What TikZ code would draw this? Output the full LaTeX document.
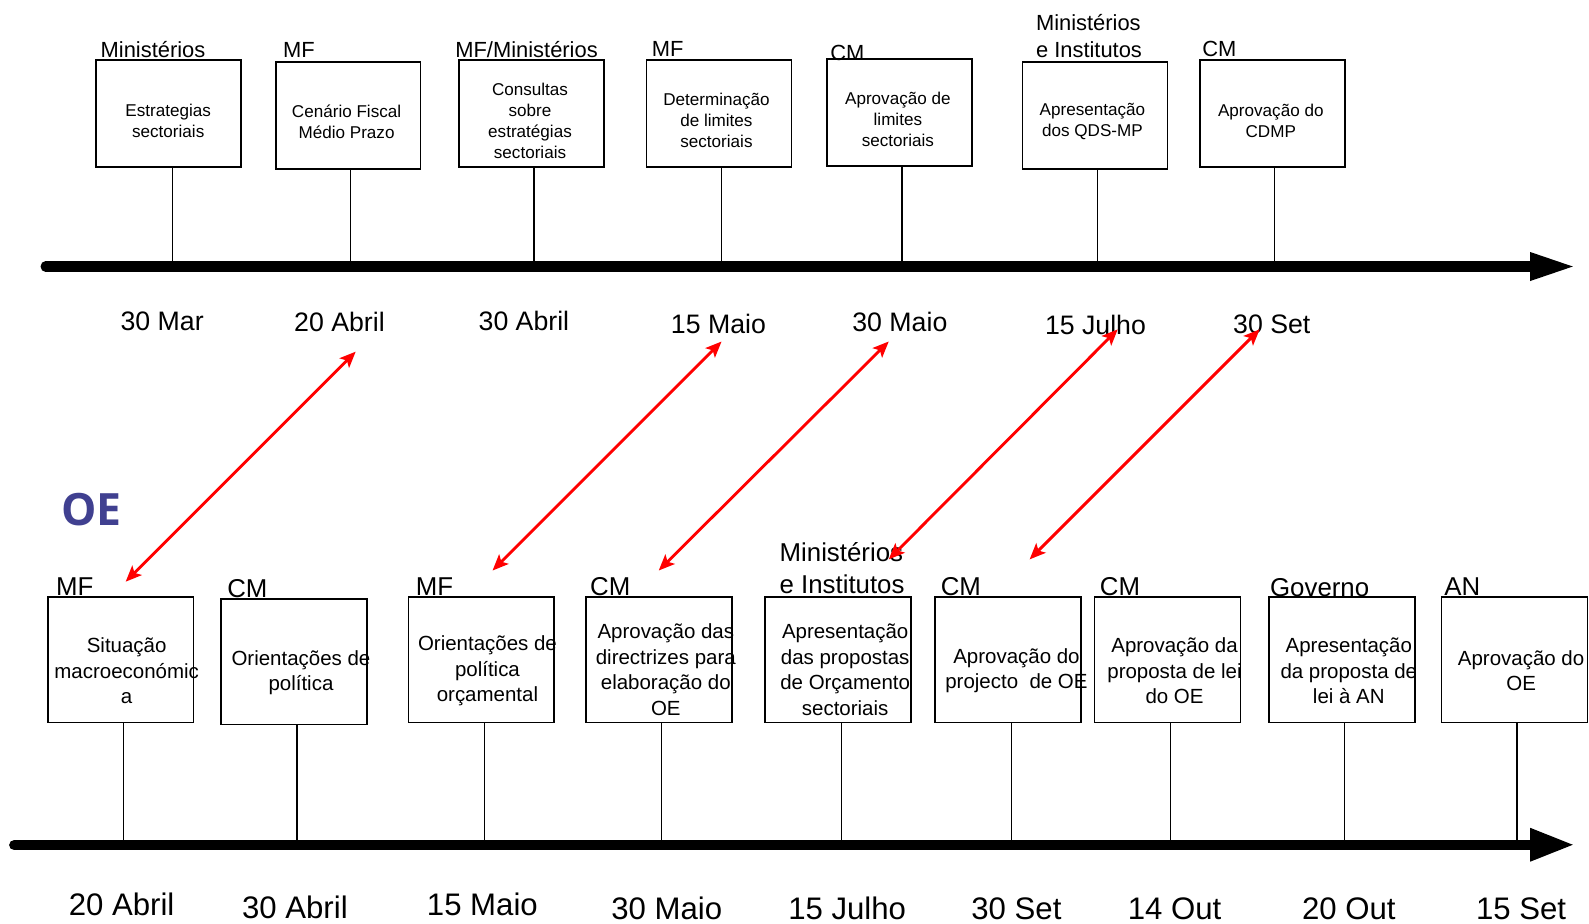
\documentclass[tikz,border=0pt]{standalone}
\usepackage{fontspec}
\setmainfont{Liberation Sans}
\newfontfamily\oefont{Open Sans}
\usetikzlibrary{arrows.meta}
\definecolor{oeblue}{RGB}{64,64,144}
\begin{document}
\begin{tikzpicture}[x=0.02cm,y=-0.02cm,
  tbox/.style={draw,line width=1pt,minimum width=2.86cm,minimum height=2.12cm,inner sep=0pt},
  bbox/.style={draw,line width=1pt,minimum width=2.88cm,minimum height=2.48cm,inner sep=0pt},
  ttext/.style={align=center,inner sep=0pt,font=\fontsize{9.6}{11.8}\selectfont},
  btext/.style={align=center,inner sep=0pt,font=\fontsize{11.5}{14.3}\selectfont},
  trole/.style={anchor=base west,inner sep=0pt,font=\fontsize{12.3}{14}\selectfont},
  brole/.style={anchor=base west,inner sep=0pt,font=\fontsize{14.5}{16}\selectfont},
  tdate/.style={anchor=base,inner sep=0pt,font=\fontsize{15}{17}\selectfont},
  bdate/.style={anchor=base,inner sep=0pt,font=\fontsize{17.5}{20}\selectfont},
  stem/.style={line width=0.7pt},
  axis/.style={line width=5.7pt,line cap=round},
  link/.style={red,line width=1.6pt,{Stealth[length=9pt,width=7.5pt,inset=2pt]}-{Stealth[length=9pt,width=7.5pt,inset=2pt]}}
]
\useasboundingbox (0,0) rectangle (1568,911);

% ---------- top timeline ----------
\coordinate (ta) at (45,263);
\coordinate (tb) at (1511,263);
\draw[axis] (ta) -- (tb);
\fill (1510,248.7) -- (1552,263) -- (1510,277.3) -- cycle;

\node[tbox] (B1) at (166.5,112) {};
\node[tbox] (B2) at (343.5,114) {};
\node[tbox] (B3) at (524.5,112) {};
\node[tbox] (B4) at (709.5,112) {};
\node[tbox] (B5) at (887.5,111) {};
\node[tbox] (B6) at (1080.5,114) {};
\node[tbox] (B7) at (1255.5,112) {};

\node[ttext] (T1) at (166,119) {Estrategias\\sectoriais};
\node[ttext] (T2) at (342,120) {Cenário Fiscal\\Médio Prazo};
\node[ttext] (T3) at (523,119) {Consultas\\sobre\\estratégias\\sectoriais};
\node[ttext] (T4) at (707,119) {Determinação\\de limites\\sectoriais};
\node[ttext] (T5) at (886,118) {Aprovação de\\limites\\sectoriais};
\node[ttext] (T6) at (1078,120) {Apresentação\\dos QDS-MP};
\node[ttext] (T7) at (1254,119) {Aprovação do\\CDMP};

\node[trole] (R1) at (99,57) {Ministérios};
\node[trole] (R2) at (279,57) {MF};
\node[trole] (R3) at (449,57) {MF/Ministérios};
\node[trole] (R4) at (643,56) {MF};
\node[trole] (R5) at (819,60) {CM};
\node[trole] (R6a) at (1022,30) {Ministérios};
\node[trole] (R6b) at (1022,57) {e Institutos};
\node[trole] (R7) at (1186,56) {CM};

\foreach \i/\x in {1/170,2/346,3/527,4/712,5/890,6/1083,7/1258}{
  \coordinate (s\i) at (\x,268);
  \draw[stem] (B\i.south -| s\i) -- (s\i);
}

\node[tdate] (D1) at (160,326.5) {30 Mar};
\node[tdate] (D2) at (335,327.5) {20 Abril};
\node[tdate] (D3) at (517,326.5) {30 Abril};
\node[tdate] (D4) at (709,329.5) {15 Maio};
\node[tdate] (D5) at (888,327.5) {30 Maio};
\node[tdate] (D6) at (1081,330.5) {15 Julho};
\node[tdate] (D7) at (1255,329.5) {30 Set};

% ---------- OE label ----------
\node[inner sep=0pt,text=oeblue,font=\oefont\bfseries\fontsize{25}{28}\selectfont] (OE) at (90,503) {OE};

% ---------- bottom timeline ----------
\coordinate (ba) at (14,834);
\coordinate (bb) at (1511,834);
\draw[axis] (ba) -- (bb);
\fill (1510,816.9) -- (1552,833.6) -- (1510,850.3) -- cycle;

\node[bbox] (C1) at (119,651) {};
\node[bbox] (C2) at (290,653) {};
\node[bbox] (C3) at (475,651) {};
\node[bbox] (C4) at (650,651) {};
\node[bbox] (C5) at (827,651) {};
\node[bbox] (C6) at (995,651) {};
\node[bbox] (C7) at (1152,651) {};
\node[bbox] (C8) at (1324,651) {};
\node[bbox] (C9) at (1494.5,651) {};

\node[btext] (U1) at (125,662) {Situação\\macroeconómic\\a};
\node[btext] (U2) at (297,664) {Orientações de\\política};
\node[btext] (U3) at (481,662) {Orientações de\\política\\orçamental};
\node[btext] (U4) at (657,661) {Aprovação das\\directrizes para\\elaboração do\\OE};
\node[btext] (U5) at (834,661) {Apresentação\\das propostas\\de Orçamento\\sectoriais};
\node[btext] (U6) at (1003,662) {Aprovação do\\projecto\ \ de OE};
\node[btext] (U7) at (1159,662) {Aprovação da\\proposta de lei\\do OE};
\node[btext] (U8) at (1331,662) {Apresentação\\da proposta de\\lei à AN};
\node[btext] (U9) at (1501,662) {Aprovação do\\OE};

\node[brole] (Q1) at (55,588) {MF};
\node[brole] (Q2) at (224,590) {CM};
\node[brole] (Q3) at (410,588) {MF};
\node[brole] (Q4) at (582,588) {CM};
\node[brole] (Q5a) at (769,554) {Ministérios};
\node[brole] (Q5b) at (769,586) {e Institutos};
\node[brole] (Q6) at (928,588) {CM};
\node[brole] (Q7) at (1085,588) {CM};
\node[brole] (Q8) at (1253,589) {Governo};
\node[brole] (Q9) at (1425,588) {AN};

\foreach \i/\x in {1/122,2/293,3/478,4/653,5/830,6/998,7/1155,8/1327,9/1497}{
  \coordinate (p\i) at (\x,832);
  \draw[stem] (C\i.south -| p\i) -- (p\i);
}

\node[bdate] (E1) at (120,903) {20 Abril};
\node[bdate] (E2) at (291,906) {30 Abril};
\node[bdate] (E3) at (476,903) {15 Maio};
\node[bdate] (E4) at (658,907) {30 Maio};
\node[bdate] (E5) at (836,907) {15 Julho};
\node[bdate] (E6) at (1003,907) {30 Set};
\node[bdate] (E7) at (1159,907) {14 Out};
\node[bdate] (E8) at (1331,907) {20 Out};
\node[bdate] (E9) at (1501,907) {15 Set};

% ---------- red links ----------
\coordinate (a1t) at (351,347);  \coordinate (a1b) at (124,574);
\coordinate (a2t) at (712,337);  \coordinate (a2b) at (486,563);
\coordinate (a3t) at (877,337);  \coordinate (a3b) at (650,563);
\coordinate (a4t) at (1103,325); \coordinate (a4b) at (877,552);
\coordinate (a5t) at (1243,325); \coordinate (a5b) at (1016,552);
\foreach \k in {1,...,5}{ \draw[link] (a\k t) -- (a\k b); }
\end{tikzpicture}
\end{document}
